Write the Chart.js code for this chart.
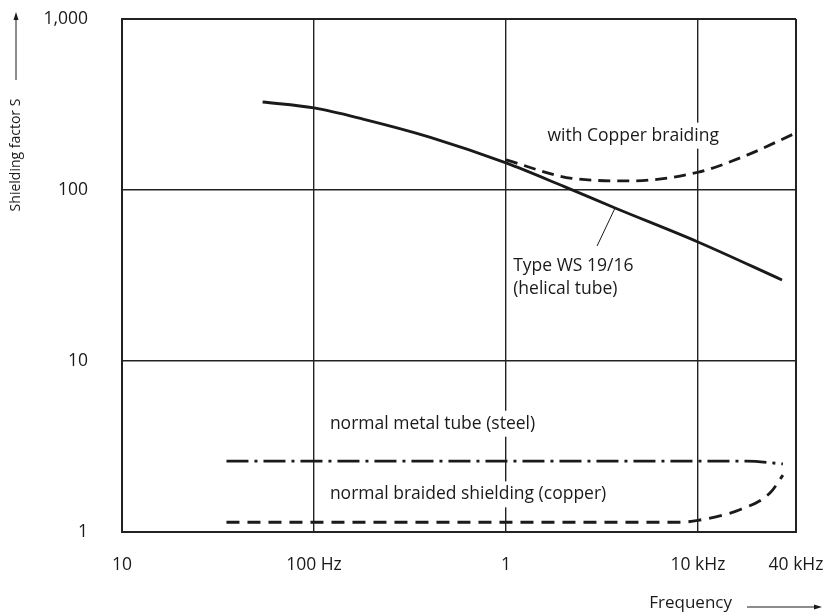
<!doctype html>
<html>
<head>
<meta charset="utf-8">
<title>Shielding factor</title>
<script src="https://cdn.jsdelivr.net/npm/chart.js@4/dist/chart.umd.min.js"></script>
<style>
  body { margin: 0; background: #fff; }
</style>
</head>
<body>
<canvas id="myChart" width="824" height="612"></canvas>
<script>
  // axis ticks
  const freqTicks = [10, 100, 1000, 10000, 32400];
  const freqTickLabels = ['10', '100 Hz', '1', '10 kHz', '40 kHz'];
  const sTicks = [1, 10, 100, 1000];
  const sTickLabels = ['1', '10', '100', '1,000'];

  // Type WS 19/16 (helical tube)
  const helicalFreq = [54, 100, 180, 400, 1000, 2000, 3700, 10000, 27400];
  const helicalS = [327, 302, 260, 204, 144, 105, 78.5, 49.7, 29.8];

  // with Copper braiding
  const copperFreq = [1000, 2200, 4400, 10000, 18000, 31300];
  const copperS = [150, 117, 113, 127, 160, 212];

  // normal metal tube (steel)
  const steelFreq = [35, 1000, 18000, 27700];
  const steelS = [2.6, 2.6, 2.6, 2.5];

  // normal braided shielding (copper)
  const braidFreq = [35, 1000, 8000, 10000, 16500, 23700, 27700];
  const braidS = [1.14, 1.14, 1.14, 1.17, 1.35, 1.69, 2.15];

  const FONT = "'Open Sans', 'Noto Sans', sans-serif";
  const INK = '#1a1a1a';

  const pts = (xs, ys) => xs.map((x, i) => ({ x: x, y: ys[i] }));

  function line(data, dash) {
    return {
      data: data,
      borderColor: INK,
      borderWidth: 2.8,
      borderDash: dash,
      pointRadius: 0,
      fill: false,
      cubicInterpolationMode: 'monotone',
    };
  }

  // text notes inside the plot, anchored in data coordinates
  const notes = [
    { text: 'with Copper braiding', f: 4600, s: 208, align: 'center' },
    { text: 'Type WS 19/16', f: 1090, s: 36, align: 'left' },
    { text: '(helical tube)', f: 1090, s: 26.5, align: 'left' },
    { text: 'normal metal tube (steel)', f: 121, s: 4.3, align: 'left' },
    { text: 'normal braided shielding (copper)', f: 121, s: 1.66, align: 'left' },
  ];

  const notesPlugin = {
    id: 'notes',
    beforeDatasetsDraw(chart) {
      const { ctx, scales: { x, y } } = chart;
      ctx.save();
      ctx.font = '17.5px ' + FONT;
      ctx.textBaseline = 'middle';
      notes.forEach(n => {
        const px = x.getPixelForValue(n.f);
        const py = y.getPixelForValue(n.s);
        const w = ctx.measureText(n.text).width;
        const left = n.align === 'center' ? px - w / 2 : px;
        ctx.fillStyle = '#fff';
        ctx.fillRect(left - 4, py - 13, w + 8, 26);
        ctx.fillStyle = INK;
        ctx.textAlign = 'left';
        ctx.fillText(n.text, left, py);
      });
      // leader line to the helical curve
      ctx.strokeStyle = INK;
      ctx.lineWidth = 1;
      ctx.beginPath();
      ctx.moveTo(x.getPixelForValue(2980), y.getPixelForValue(47));
      ctx.lineTo(x.getPixelForValue(3700), y.getPixelForValue(78.5));
      ctx.stroke();
      ctx.restore();
    },
    afterDraw(chart) {
      const ctx = chart.ctx;
      ctx.save();
      ctx.fillStyle = INK;
      ctx.strokeStyle = INK;
      ctx.lineWidth = 1;
      // y title with arrow
      ctx.save();
      ctx.translate(16, 155);
      ctx.rotate(-Math.PI / 2);
      ctx.font = '14px ' + FONT;
      ctx.textAlign = 'center';
      ctx.textBaseline = 'middle';
      ctx.fillText('Shielding factor S', 0, 0);
      ctx.restore();
      ctx.beginPath();
      ctx.moveTo(16, 80); ctx.lineTo(16, 16); ctx.stroke();
      ctx.beginPath();
      ctx.moveTo(16, 12); ctx.lineTo(13.5, 20); ctx.lineTo(18.5, 20); ctx.closePath(); ctx.fill();
      // x title with arrow
      ctx.font = '17px ' + FONT;
      ctx.textAlign = 'right';
      ctx.textBaseline = 'middle';
      ctx.fillText('Frequency', 732, 603);
      ctx.beginPath();
      ctx.moveTo(747, 607); ctx.lineTo(817, 607); ctx.stroke();
      ctx.beginPath();
      ctx.moveTo(822, 607); ctx.lineTo(814, 604.5); ctx.lineTo(814, 609.5); ctx.closePath(); ctx.fill();
      ctx.restore();
    }
  };

  const edgeWidth = (n) => (c) => (c.index === 0 || c.index === n - 1) ? 2 : 1.4;

  const ctx = document.getElementById('myChart').getContext('2d');
  const myChart = new Chart(ctx, {
    type: 'line',
    data: {
      datasets: [
        line(pts(helicalFreq, helicalS), []),
        line(pts(copperFreq, copperS), [12, 7]),
        line(pts(steelFreq, steelS), [22, 6, 3, 6]),
        line(pts(braidFreq, braidS), [13, 8]),
      ]
    },
    options: {
      responsive: false,
      animation: false,
      layout: { padding: { left: 0, right: 28, top: 19, bottom: 0 } },
      plugins: {
        legend: { display: false },
        tooltip: { enabled: false },
      },
      scales: {
        x: {
          type: 'logarithmic',
          min: 10,
          max: 32400,
          afterBuildTicks: s => { s.ticks = freqTicks.map(v => ({ value: v })); },
          afterFit: s => { s.height = 80; s.paddingLeft = 0; s.paddingRight = 0; },
          ticks: {
            autoSkip: false,
            maxRotation: 0,
            padding: 23,
            color: INK,
            font: { family: FONT, size: 17.5 },
            callback: (v, i) => freqTickLabels[i],
          },
          grid: { color: '#222', lineWidth: edgeWidth(freqTicks.length), drawTicks: false },
          border: { color: '#222', width: 2 },
        },
        y: {
          type: 'logarithmic',
          min: 1,
          max: 1000,
          afterBuildTicks: s => { s.ticks = sTicks.map(v => ({ value: v })); },
          afterFit: s => { s.width = 122; s.paddingTop = 0; s.paddingBottom = 0; },
          ticks: {
            autoSkip: false,
            padding: 34,
            color: INK,
            font: { family: FONT, size: 17.5 },
            callback: (v, i) => sTickLabels[i],
          },
          grid: { color: '#222', lineWidth: edgeWidth(sTicks.length), drawTicks: false },
          border: { color: '#222', width: 2 },
        }
      }
    },
    plugins: [notesPlugin]
  });
</script>
</body>
</html>
